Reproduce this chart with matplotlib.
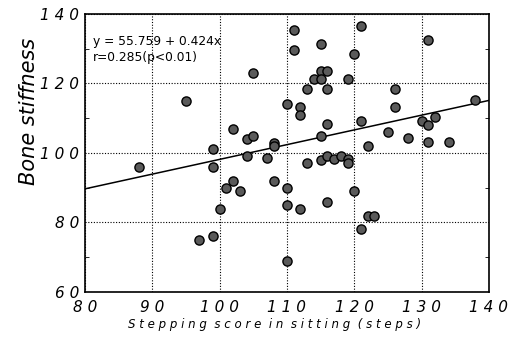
import matplotlib.pyplot as plt
import numpy as np
from matplotlib.ticker import MultipleLocator

# stepping score (steps) vs bone stiffness
steps = [88, 95, 97, 99, 99, 99, 100, 101, 102, 102, 103, 104, 104, 105, 105,
         107, 108, 108, 108, 110, 110, 110, 110, 111, 111, 112, 112, 112, 113,
         113, 114, 115, 115, 115, 115, 115, 116, 116, 116, 116, 116, 117, 118,
         119, 119, 119, 120, 120, 121, 121, 121, 122, 122, 123, 125, 126, 126,
         128, 130, 131, 131, 131, 132, 134, 138]
stiffness = [96, 115, 75, 101, 96, 76, 84, 90, 92, 107, 89, 104, 99, 105, 123,
             98.5, 103, 102, 92, 114, 90, 85, 69, 135.5, 129.6, 113.3, 110.9,
             84, 118.4, 97, 121.3, 131.4, 123.6, 121.3, 105, 98, 123.6, 118.4,
             108.3, 86, 99, 98.2, 99, 121.3, 98.2, 97, 128.5, 89, 136.5, 109.2,
             78, 102, 82, 82, 106, 118.4, 113.3, 104.2, 109.3, 132.5, 108, 103.3,
             110.3, 103.3, 115.3]

# regression from the figure
a, b = 55.759, 0.424
xfit = np.array([80, 140])

fig = plt.figure(figsize=(5.1, 3.45), dpi=100)
ax = fig.add_axes([0.1667, 0.1536, 0.792, 0.806])

ax.plot(xfit, a + b * xfit, color='black', linewidth=1.1, zorder=2)
ax.plot(steps, stiffness, 'o', markersize=6.6, markerfacecolor='#5a5a5a',
        markeredgecolor='black', markeredgewidth=1.0, zorder=3)

ax.set_xlim(80, 140)
ax.set_ylim(60, 140)
ax.xaxis.set_major_locator(MultipleLocator(10))
ax.yaxis.set_major_locator(MultipleLocator(20))
ax.yaxis.set_minor_locator(MultipleLocator(10))
ax.grid(True, which='major', linestyle=(0, (1, 1.5)), color='black', linewidth=0.8)
ax.tick_params(which='both', direction='in', right=True, top=False, length=3)
ax.tick_params(axis='x', which='major', length=0, pad=6)
ax.tick_params(axis='y', which='major', length=0, pad=4)

def spaced(v, pos):
    return ' '.join(str(int(v)))

ax.xaxis.set_major_formatter(spaced)
ax.yaxis.set_major_formatter(spaced)
for lab in ax.get_xticklabels() + ax.get_yticklabels():
    lab.set_fontstyle('italic')
    lab.set_fontsize(11)

for s in ax.spines.values():
    s.set_linewidth(1.2)

ax.set_ylabel('Bone stiffness', fontsize=15, fontstyle='italic', labelpad=2)
ax.yaxis.set_label_coords(-0.115, 0.65)
ax.set_xlabel('S t e p p i n g  s c o r e  i n  s i t t i n g  ( s t e p s )',
              fontsize=8.5, fontstyle='italic', labelpad=3)
ax.xaxis.set_label_coords(0.47, -0.095)

ax.text(0.02, 0.89, 'y = 55.759 + 0.424x', transform=ax.transAxes, fontsize=8.8)
ax.text(0.02, 0.83, 'r=0.285(p<0.01)', transform=ax.transAxes, fontsize=8.8)

fig.savefig('out.png', dpi=100)
